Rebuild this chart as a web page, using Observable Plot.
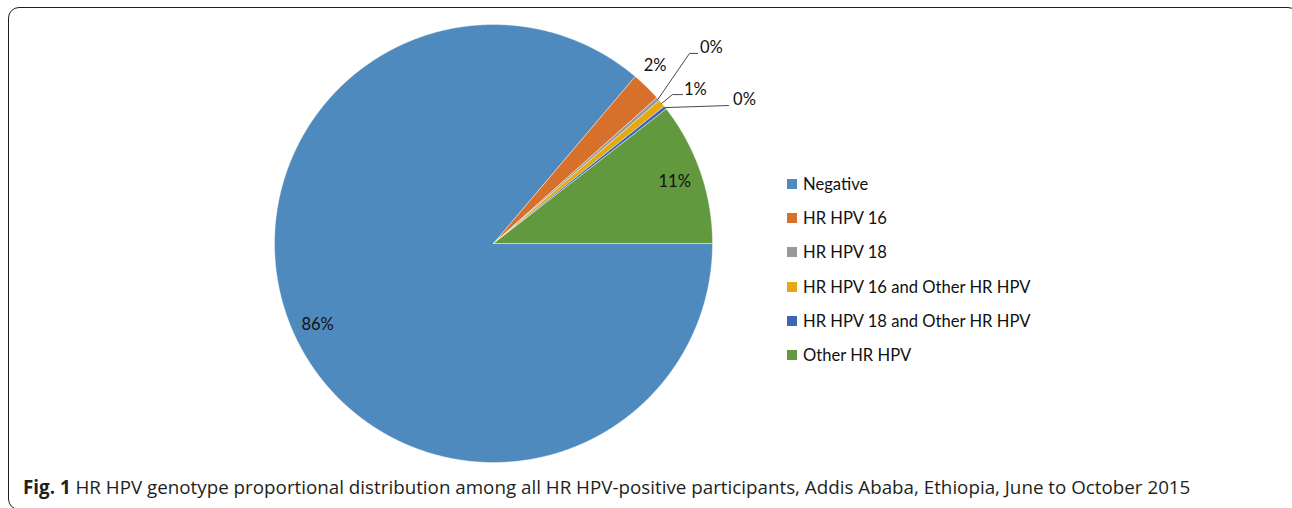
<!DOCTYPE html>
<html>
<head>
<meta charset="utf-8">
<script src="https://cdn.jsdelivr.net/npm/d3@7"></script>
<script src="https://cdn.jsdelivr.net/npm/@observablehq/plot@0.6"></script>
<style>
  html, body { margin: 0; padding: 0; background: #fff; }
  #wrap { position: relative; width: 1292px; height: 508px; overflow: hidden; }
  #frame { position: absolute; left: 8px; top: 7px; width: 1291px; height: 503px; box-sizing: border-box;
           border: 1.6px solid #1e1e1e; border-radius: 11px; }
  #chart { position: absolute; left: 0; top: 0; }
  #legend { position: absolute; left: 787px; top: 0; font-family: Lato, sans-serif; font-size: 16.6px; color: #111; }
  .item { position: absolute; left: 0; white-space: nowrap; display: flex; align-items: center; height: 20px; }
  .sw { width: 10px; height: 10px; margin-right: 6px; }
  #caption { position: absolute; left: 23px; top: 474px; font-family: "Open Sans", sans-serif; font-size: 18.8px;
             color: #231f20; white-space: nowrap; }
  #caption b { font-weight: 700; }
</style>
</head>
<body>
<div id="wrap">
  <div id="frame"></div>
  <div id="chart"></div>
  <div id="legend"></div>
  <div id="caption"><b>Fig. 1</b> HR HPV genotype proportional distribution among all HR HPV-positive participants, Addis Ababa, Ethiopia, June to October 2015</div>
</div>
<script>
// ---- data ----
const categories = ["Negative", "HR HPV 16", "HR HPV 18", "HR HPV 16 and Other HR HPV", "HR HPV 18 and Other HR HPV", "Other HR HPV"];
const shares = [86.2, 2.2, 0.27, 0.55, 0.25, 10.53];
const colors = ["#4f8abe", "#d6702b", "#999999", "#e5a80f", "#3c66b2", "#62993e"];

// ---- pie geometry (d3 angles: clockwise from 12 o'clock) ----
const pie = d3.pie().sort(null).value(d => d.share).startAngle(Math.PI / 2).endAngle(Math.PI / 2 + 2 * Math.PI);
const rows = categories.map((c, i) => ({category: c, share: shares[i], label: Math.round(shares[i]) + "%"}));
const arcs = pie(rows);
const polar = (a, r) => ({x: Math.sin(a) * r, y: Math.cos(a) * r});

const slicePts = [];
for (const a of arcs) {
  const n = Math.max(2, Math.ceil((a.endAngle - a.startAngle) / 0.004));
  slicePts.push({category: a.data.category, x: 0, y: 0});
  for (let k = 0; k <= n; k++) {
    const t = a.startAngle + (a.endAngle - a.startAngle) * k / n;
    slicePts.push({category: a.data.category, ...polar(t, 1)});
  }
  slicePts.push({category: a.data.category, x: 0, y: 0});
}

// label placement (layout, in unit-radius coordinates)
const deg = Math.PI / 180;
const layout = {
  "Negative": {r: 0.885},
  "HR HPV 16": {r: 1.097, da: -2 * deg},
  "HR HPV 18": {text: [0.995, 0.893], path: [[0.895, 0.868], [0.932, 0.868]]},
  "HR HPV 16 and Other HR HPV": {text: [0.922, 0.703], path: [[0.817, 0.680], [0.863, 0.680]]},
  "HR HPV 18 and Other HR HPV": {text: [1.146, 0.658], path: [[1.073, 0.630]]},
  "Other HR HPV": {r: 0.875}
};
const labels = [], leaders = [];
for (const a of arcs) {
  const L = layout[a.data.category];
  const mid = (a.startAngle + a.endAngle) / 2;
  if (L.text) {
    labels.push({label: a.data.label, x: L.text[0], y: L.text[1]});
    leaders.push({category: a.data.category, ...polar(mid, 1)});
    for (const p of L.path) leaders.push({category: a.data.category, x: p[0], y: p[1]});
  } else {
    labels.push({label: a.data.label, ...polar(mid + (L.da || 0), L.r)});
  }
}

const chart = Plot.plot({
  width: 1292,
  height: 470,
  marginLeft: 274,
  marginRight: 580,
  marginTop: 24,
  marginBottom: 8,
  x: {domain: [-1, 1], axis: null},
  y: {domain: [-1, 1], axis: null},
  color: {domain: categories, range: colors},
  style: {background: "transparent", overflow: "visible"},
  marks: [
    Plot.line(slicePts, {x: "x", y: "y", z: "category", fill: "category", stroke: "#ffffff", strokeWidth: 0.6, strokeOpacity: 0.7, clip: false}),
    Plot.line(leaders, {x: "x", y: "y", z: "category", stroke: "#333333", strokeWidth: 0.9}),
    Plot.text(labels, {x: "x", y: "y", text: "label", fontSize: 16.5, fontFamily: "Lato, sans-serif", fill: "#111", textAnchor: "middle"})
  ]
});
document.getElementById("chart").appendChild(chart);

// legend, using the plot's own color scale
const color = chart.scale("color");
const legend = document.getElementById("legend");
const rowY = 184, rowStep = 34.2;
categories.forEach((c, i) => {
  const it = document.createElement("div");
  it.className = "item";
  it.style.top = (rowY + i * rowStep - 10) + "px";
  const sw = document.createElement("span");
  sw.className = "sw";
  sw.style.background = color.apply(c);
  const tx = document.createElement("span");
  tx.textContent = c;
  it.appendChild(sw); it.appendChild(tx);
  legend.appendChild(it);
});
</script>
</body>
</html>
